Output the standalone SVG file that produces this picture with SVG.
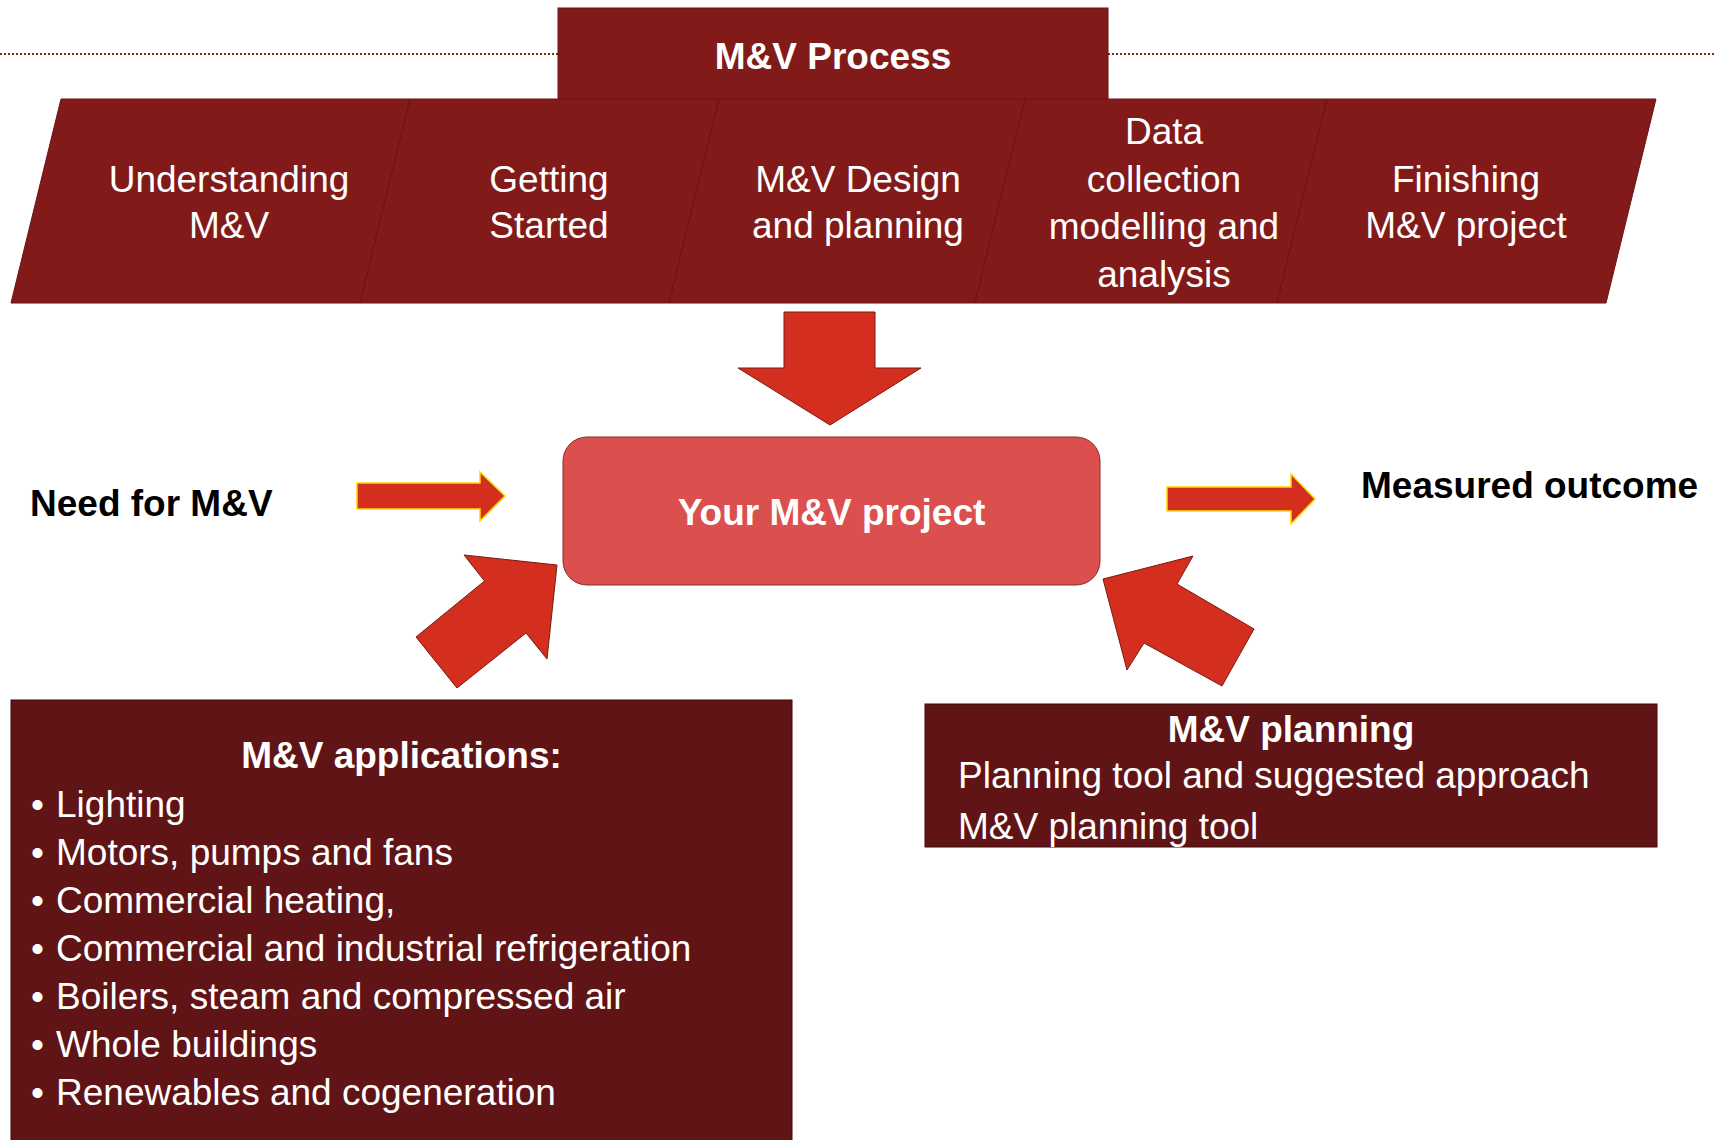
<svg xmlns="http://www.w3.org/2000/svg" width="1715" height="1140" viewBox="0 0 1715 1140">
<style>
  .step { fill: #821a1a; stroke: #6a1212; stroke-width: 1; }
  .w { fill: #ffffff; font-family: "Liberation Sans", Arial, sans-serif; font-size: 37px; }
  .wb { fill: #ffffff; font-family: "Liberation Sans", Arial, sans-serif; font-size: 37px; font-weight: bold; }
  .kb { fill: #000000; font-family: "Liberation Sans", Arial, sans-serif; font-size: 37px; font-weight: bold; }
  .c { text-anchor: middle; }
  .big { fill: #d42e1e; stroke: #7a1a14; stroke-width: 1; }
  .thin { fill: #d42e1e; stroke: #ffd800; stroke-width: 1.5; }
  .dark { fill: #611416; stroke: #3a0a0a; stroke-width: 1; }
  .rule { stroke: #8f2020; stroke-width: 2; stroke-dasharray: 2 2; }
</style>
<rect width="1715" height="1140" fill="#ffffff"/>
<g id="dotted-rule">
  <line class="rule" x1="0" y1="54" x2="558" y2="54"/>
  <line class="rule" x1="1108" y1="54" x2="1715" y2="54"/>
</g>
<g id="process-header">
  <rect x="558" y="8" width="550" height="92" fill="#821a1a" stroke="#6a1212" stroke-width="1"/>
  <text class="wb c" x="833" y="69">M&amp;V Process</text>
</g>
<g id="step-understanding">
  <polygon class="step" points="61,99 410,99 360,303 11,303"/>
  <text class="w c" x="229" y="192">Understanding</text>
  <text class="w c" x="229" y="238">M&amp;V</text>
</g>
<g id="step-getting-started">
  <polygon class="step" points="410,99 719,99 669,303 360,303"/>
  <text class="w c" x="549" y="192">Getting</text>
  <text class="w c" x="549" y="238">Started</text>
</g>
<g id="step-design">
  <polygon class="step" points="719,99 1025,99 975,303 669,303"/>
  <text class="w c" x="858" y="192">M&amp;V Design</text>
  <text class="w c" x="858" y="238">and planning</text>
</g>
<g id="step-data">
  <polygon class="step" points="1025,99 1327,99 1277,303 975,303"/>
  <text class="w c" x="1164" y="143.5">Data</text>
  <text class="w c" x="1164" y="191.5">collection</text>
  <text class="w c" x="1164" y="239">modelling and</text>
  <text class="w c" x="1164" y="286.5">analysis</text>
</g>
<g id="step-finishing">
  <polygon class="step" points="1327,99 1656,99 1606,303 1277,303"/>
  <text class="w c" x="1466" y="192">Finishing</text>
  <text class="w c" x="1466" y="238">M&amp;V project</text>
</g>
<g id="connectors">
  <polygon class="big" points="784,312 875,312 875,368 921,368 830,425 738,368 784,368"/>
  <polygon class="thin" points="357,483 480,483 480,472 505,496 480,521 480,509 357,509"/>
  <polygon class="thin" points="1167,487 1291,487 1291,474 1315,499 1291,524 1291,511 1167,511"/>
  <polygon class="big" points="557,565 547,659 526,633 457,688 416,637 484.5,581 464,555"/>
  <polygon class="big" points="1103,579 1193,556 1177,584 1254,629 1222,686 1144,643 1127,670"/>
</g>
<g id="need">
  <text class="kb" x="30" y="516">Need for M&amp;V</text>
</g>
<g id="project">
  <rect x="563" y="437" width="537" height="148" rx="24" ry="24" fill="#dc4f4f" stroke="#8b2a2a" stroke-width="1"/>
  <text class="wb c" x="831.5" y="525">Your M&amp;V project</text>
</g>
<g id="outcome">
  <text class="kb" x="1361" y="498">Measured outcome</text>
</g>
<g id="applications">
  <rect class="dark" x="11" y="700" width="781" height="445"/>
  <text class="wb c" x="401.5" y="768">M&amp;V applications:</text>
  <g class="w">
    <text x="31" y="816.5">•</text><text x="56" y="816.5">Lighting</text>
    <text x="31" y="864.5">•</text><text x="56" y="864.5">Motors, pumps and fans</text>
    <text x="31" y="912.5">•</text><text x="56" y="912.5">Commercial heating,</text>
    <text x="31" y="961">•</text><text x="56" y="961">Commercial and industrial refrigeration</text>
    <text x="31" y="1009">•</text><text x="56" y="1009">Boilers, steam and compressed air</text>
    <text x="31" y="1057">•</text><text x="56" y="1057">Whole buildings</text>
    <text x="31" y="1105">•</text><text x="56" y="1105">Renewables and cogeneration</text>
  </g>
</g>
<g id="planning">
  <rect class="dark" x="925" y="704" width="732" height="143"/>
  <text class="wb c" x="1291" y="742">M&amp;V planning</text>
  <text class="w" x="958" y="788">Planning tool and suggested approach</text>
  <text class="w" x="958" y="839">M&amp;V planning tool</text>
</g>
</svg>
